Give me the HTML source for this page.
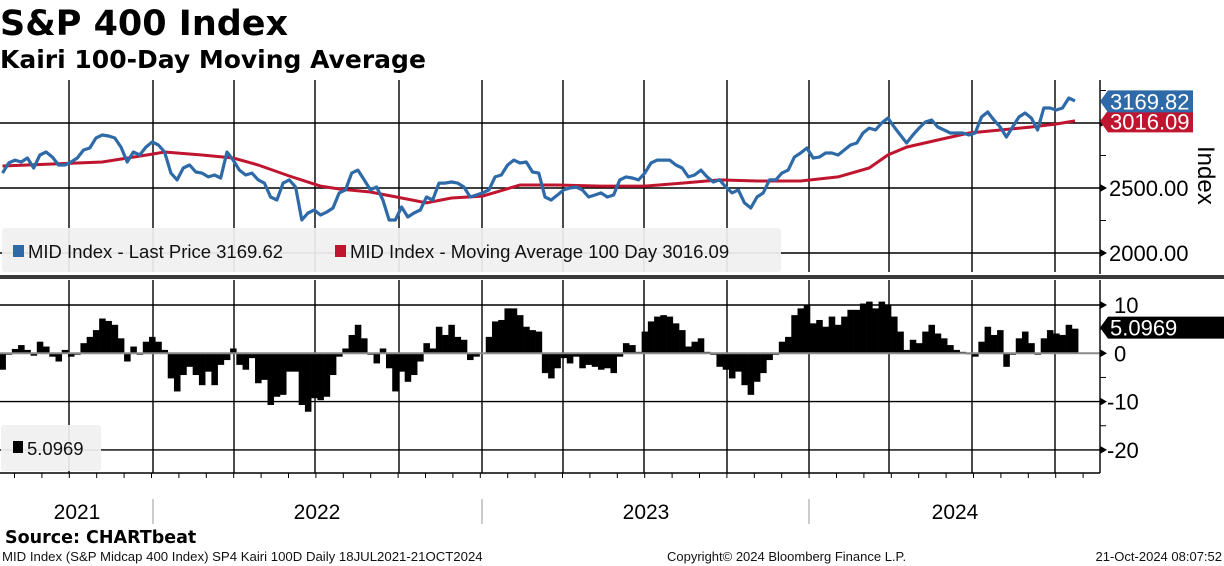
<!DOCTYPE html>
<html><head><meta charset="utf-8">
<style>
html,body{margin:0;padding:0;background:#fff;width:1224px;height:566px;overflow:hidden}
svg{display:block}
.t{font-family:"Liberation Sans",sans-serif}
.b{font-family:"DejaVu Sans","Liberation Sans",sans-serif;font-weight:bold}
</style></head>
<body>
<svg id="c" width="1224" height="566" xmlns="http://www.w3.org/2000/svg">
<text class="b" x="0" y="35" font-size="35">S&amp;P 400 Index</text>
<text class="b" x="0" y="68" font-size="25">Kairi 100-Day Moving Average</text>
<g id="grid"></g>
<g id="bars"></g>
<line x1="0" x2="1100" y1="353.3" y2="353.3" stroke="#8a8a8a" stroke-width="2"/>
<path id="ma" fill="none" stroke="#c0152f" stroke-width="3"/>
<path id="px" fill="none" stroke="#2e6aa8" stroke-width="3.2" stroke-linejoin="round"/>
<g>
<rect x="2" y="228" width="779" height="44" rx="3" fill="#f0f0f0" opacity="0.93"/>
<rect x="13" y="245" width="11" height="12" fill="#2e6aa8"/>
<text class="t" x="28" y="258" font-size="18.5" fill="#111">MID Index - Last Price 3169.62</text>
<rect x="335" y="245" width="11" height="12" fill="#c0152f"/>
<text class="t" x="350" y="258" font-size="18.5" fill="#111">MID Index - Moving Average 100 Day 3016.09</text>
</g>
<rect x="0" y="275" width="1224" height="4" fill="#3a3a3a"/>
<g>
<rect x="1" y="425" width="100" height="46" rx="3" fill="#f0f0f0" opacity="0.93"/>
<rect x="13" y="441" width="10" height="12" fill="#000"/>
<text class="t" x="27" y="455" font-size="18.5" fill="#111">5.0969</text>
</g>
<g id="axes"></g>
<text class="t" transform="translate(1198,146) rotate(90)" font-size="24" fill="#000">Index</text>
<text class="b" x="5" y="543" font-size="17.5">Source: CHARTbeat</text>
<text class="t" x="2" y="561" font-size="13.2" fill="#111">MID Index (S&amp;P Midcap 400 Index) SP4 Kairi 100D  Daily 18JUL2021-21OCT2024</text>
<text class="t" x="667" y="561" font-size="13" fill="#111">Copyright© 2024 Bloomberg Finance L.P.</text>
<text class="t" x="1222" y="561" font-size="13" fill="#111" text-anchor="end">21-Oct-2024 08:07:52</text>
</svg>
<script>
const price=[2615,2692,2715,2700,2731,2654,2754,2777,2738,2677,2677,2700,2731,2792,2808,2885,2908,2900,2885,2815,2700,2777,2754,2815,2854,2831,2777,2615,2562,2654,2677,2623,2615,2585,2600,2577,2777,2715,2638,2600,2615,2562,2538,2431,2408,2538,2562,2508,2254,2308,2331,2292,2315,2346,2462,2485,2615,2638,2562,2485,2508,2408,2254,
2254,2354,2277,2308,2331,2431,2408,2538,2538,2546,2538,2508,2431,2446,2462,2485,2585,2600,2677,2715,2692,2700,2623,2615,2431,2408,2446,2485,2500,2508,2485,2431,2446,2462,2431,2446,2562,2585,2577,2562,2615,2692,2715,2715,2715,2677,2654,2585,2600,2638,2585,2546,2562,2508,2462,2485,2385,2346,2431,2462,2562,2562,2615,
2638,2738,2769,2808,2731,2738,2769,2769,2754,2792,2831,2846,2923,2961,2946,3000,3038,2969,2908,2846,2908,2961,3008,3023,2969,2946,2923,2923,2923,2908,2923,3046,3085,3023,2969,2892,2969,3046,3077,3038,2946,3115,3115,3100,3115,3192,3170];
const maWeeks=[0,16,24,26,32,37,41,46,51,54,59,64,68,72,77,83,89,96,103,109,115,121,128,134,139,142,145,150,155,160,165,169,172];
const maValues=[2669,2700,2761,2777,2754,2731,2677,2592,2515,2492,2469,2423,2385,2423,2438,2523,2523,2515,2515,2538,2562,2554,2554,2585,2654,2754,2815,2869,2923,2946,2969,2992,3016];
const kairi=[-3.4,-0.3,0.9,1.7,0.7,-0.5,2.4,1.4,-0.7,-1.7,0.7,-0.7,-0.3,2.1,3.4,4.8,7.2,6.7,5.9,3.1,-1.7,1.4,-0.3,2.4,3.4,2.4,0.7,-5.2,-7.9,-4.5,-2.8,-4.5,-6.6,-3.8,-6.6,-2.4,-1.4,1.0,-2.4,-3.4,-1.0,-6.2,-5.5,-10.7,-9.0,-8.6,-3.8,-3.8,-10.7,-12.1,-9.3,-9.7,-9.0,-4.5,-0.7,1.0,3.8,5.9,3.1,-0.3,-2.1,1.0,-3.1,-7.9,
-3.8,-5.9,-4.5,-1.7,2.1,1.0,5.5,3.8,5.9,3.4,2.8,-1.4,-0.7,0,3.4,6.6,6.9,9.3,9.3,7.9,5.5,4.8,4.5,-4.1,-5.2,-3.1,-1.0,-2.1,-0.7,-3.1,-2.4,-2.8,-3.4,-3.1,-4.1,-0.7,2.1,1.7,0.3,4.5,6.6,7.6,7.9,7.6,6.2,4.8,1.4,2.4,3.1,0.3,-0.3,-2.8,-3.4,-5.2,-3.8,-6.6,-8.6,-5.9,-4.1,-1.4,-0.3,2.4,
3.4,7.9,9.3,10.0,6.2,6.9,5.5,7.6,5.9,7.6,9.0,9.0,10.3,10.7,9.3,10.7,10.0,7.6,4.5,0.7,2.8,2.1,4.5,5.9,4.1,3.1,1.7,0.7,0.3,-0.2,-0.7,2.4,5.5,3.8,4.8,-2.8,-0.3,3.1,4.5,2.1,-0.3,3.1,4.8,4.1,3.8,5.9,5.0969];
const priceTicks=[2000,2500,3000];
const priceTickLabels=["2000.00","2500.00",""];
const kairiTicks=[-20,-10,0,10];
const yearLabels=["2021","2022","2023","2024"];
const lastPriceLabel="3169.82", lastMaLabel="3016.09", lastKairiLabel="5.0969";

const NS="http://www.w3.org/2000/svg";
const N=price.length-1;
const X=i=>2.5+i*(1075-2.5)/N;
const YP=p=>188-(p-2500)*0.13;
const YK=k=>353.3-k*4.83;
function mk(tag,attrs,parent,txt){const e=document.createElementNS(NS,tag);for(const k in attrs)e.setAttribute(k,attrs[k]);if(txt!==undefined)e.textContent=txt;parent.appendChild(e);return e;}
const grid=document.getElementById('grid'),axes=document.getElementById('axes'),bars=document.getElementById('bars');
const vlines=[69,153,234,315,399,482,563,644,727,809,889,972,1055];
vlines.forEach(x=>{
  const a=mk('line',{x1:x,x2:x,y1:80,y2:272,stroke:'#000','stroke-width':1.4},grid);
  
  
  const b=mk('line',{x1:x,x2:x,y1:280,y2:473,stroke:'#000','stroke-width':1.4},grid);
  
  
});
priceTicks.forEach((p,j)=>{
  const y=YP(p);
  const l=mk('line',{x1:0,x2:1100,y1:y,y2:y,stroke:'#000','stroke-width':1.4},grid);
  
  
  mk('path',{d:`M1100 ${y-4}L1107 ${y}L1100 ${y+4}Z`,fill:'#000'},axes);
  if(priceTickLabels[j]){
    const t=mk('text',{x:1109,y:y+8,'font-size':22,class:'t'},axes,priceTickLabels[j]);
    
    
  }
  const ym=YP(p+250);
  if(ym>82)mk('line',{x1:1100,x2:1106,y1:ym,y2:ym,stroke:'#000','stroke-width':1},axes);
});
kairiTicks.forEach(k=>{
  const y=YK(k);
  if(k!==0){const l=mk('line',{x1:0,x2:1100,y1:y,y2:y,stroke:'#000','stroke-width':1.4},grid);
  
  }
  mk('path',{d:`M1100 ${y-4}L1107 ${y}L1100 ${y+4}Z`,fill:'#000'},axes);
  const t=mk('text',{x:k<0?1107:1114,y:y+8,'font-size':22,class:'t'},axes,String(k));
  
  
  const ym=YK(k-5);
  if(ym<472)mk('line',{x1:1100,x2:1106,y1:ym,y2:ym,stroke:'#000','stroke-width':1},axes);
});
mk('line',{x1:1100,x2:1100,y1:80,y2:274,stroke:'#000','stroke-width':1.4},axes);
mk('line',{x1:1100,x2:1100,y1:280,y2:473,stroke:'#000','stroke-width':1.4},axes);
mk('line',{x1:0,x2:1100,y1:473,y2:473,stroke:'#000','stroke-width':1.4},axes);
for(let m=0;m<40;m++){const x=2.5+m*27.4+12;if(x<1100)mk('line',{x1:x,x2:x,y1:473,y2:478,stroke:'#000','stroke-width':1},axes);}
[153,482,809].forEach(x=>mk('line',{x1:x,x2:x,y1:499,y2:524,stroke:'#999','stroke-width':1},axes));
const yearX=[77,317,646,955];
yearLabels.forEach((s,j)=>{const t=mk('text',{x:yearX[j],y:519,'font-size':21,class:'t','text-anchor':'middle'},axes,s);

});
const bw=(1075-2.5)/N;
kairi.forEach((k,i)=>{
  const y0=YK(0),y1=YK(k);
  const r=mk('rect',{x:X(i)-bw/2,y:Math.min(y0,y1),width:bw+0.3,height:Math.abs(y1-y0),fill:'#000'},bars);
  
  
});
document.getElementById('px').setAttribute('d',price.map((p,i)=>(i?'L':'M')+X(i).toFixed(1)+' '+YP(p).toFixed(1)).join(''));
document.getElementById('ma').setAttribute('d',maValues.map((p,i)=>(i?'L':'M')+X(maWeeks[i]).toFixed(1)+' '+YP(p).toFixed(1)).join(''));
function tag(yc,txt,fill,name,w){
  const g=mk('g',{},axes);
  
  
  mk('path',{d:`M1100 ${yc}L1108 ${yc-11}L${1100+w} ${yc-11}L${1100+w} ${yc+11}L1108 ${yc+11}Z`,fill:fill},g);
  mk('text',{x:1110,y:yc+8,'font-size':22,fill:'#fff',class:'t'},g,txt);
}
tag(YP(3016.09)+0.5,lastMaLabel,'#c0152f','ma-value-tag',93);
tag(YP(3169.82)+0.5,lastPriceLabel,'#2e6aa8','price-value-tag',93);
tag(YK(5.0969)-1,lastKairiLabel,'#000','kairi-value-tag',124);
</script>
</body></html>
